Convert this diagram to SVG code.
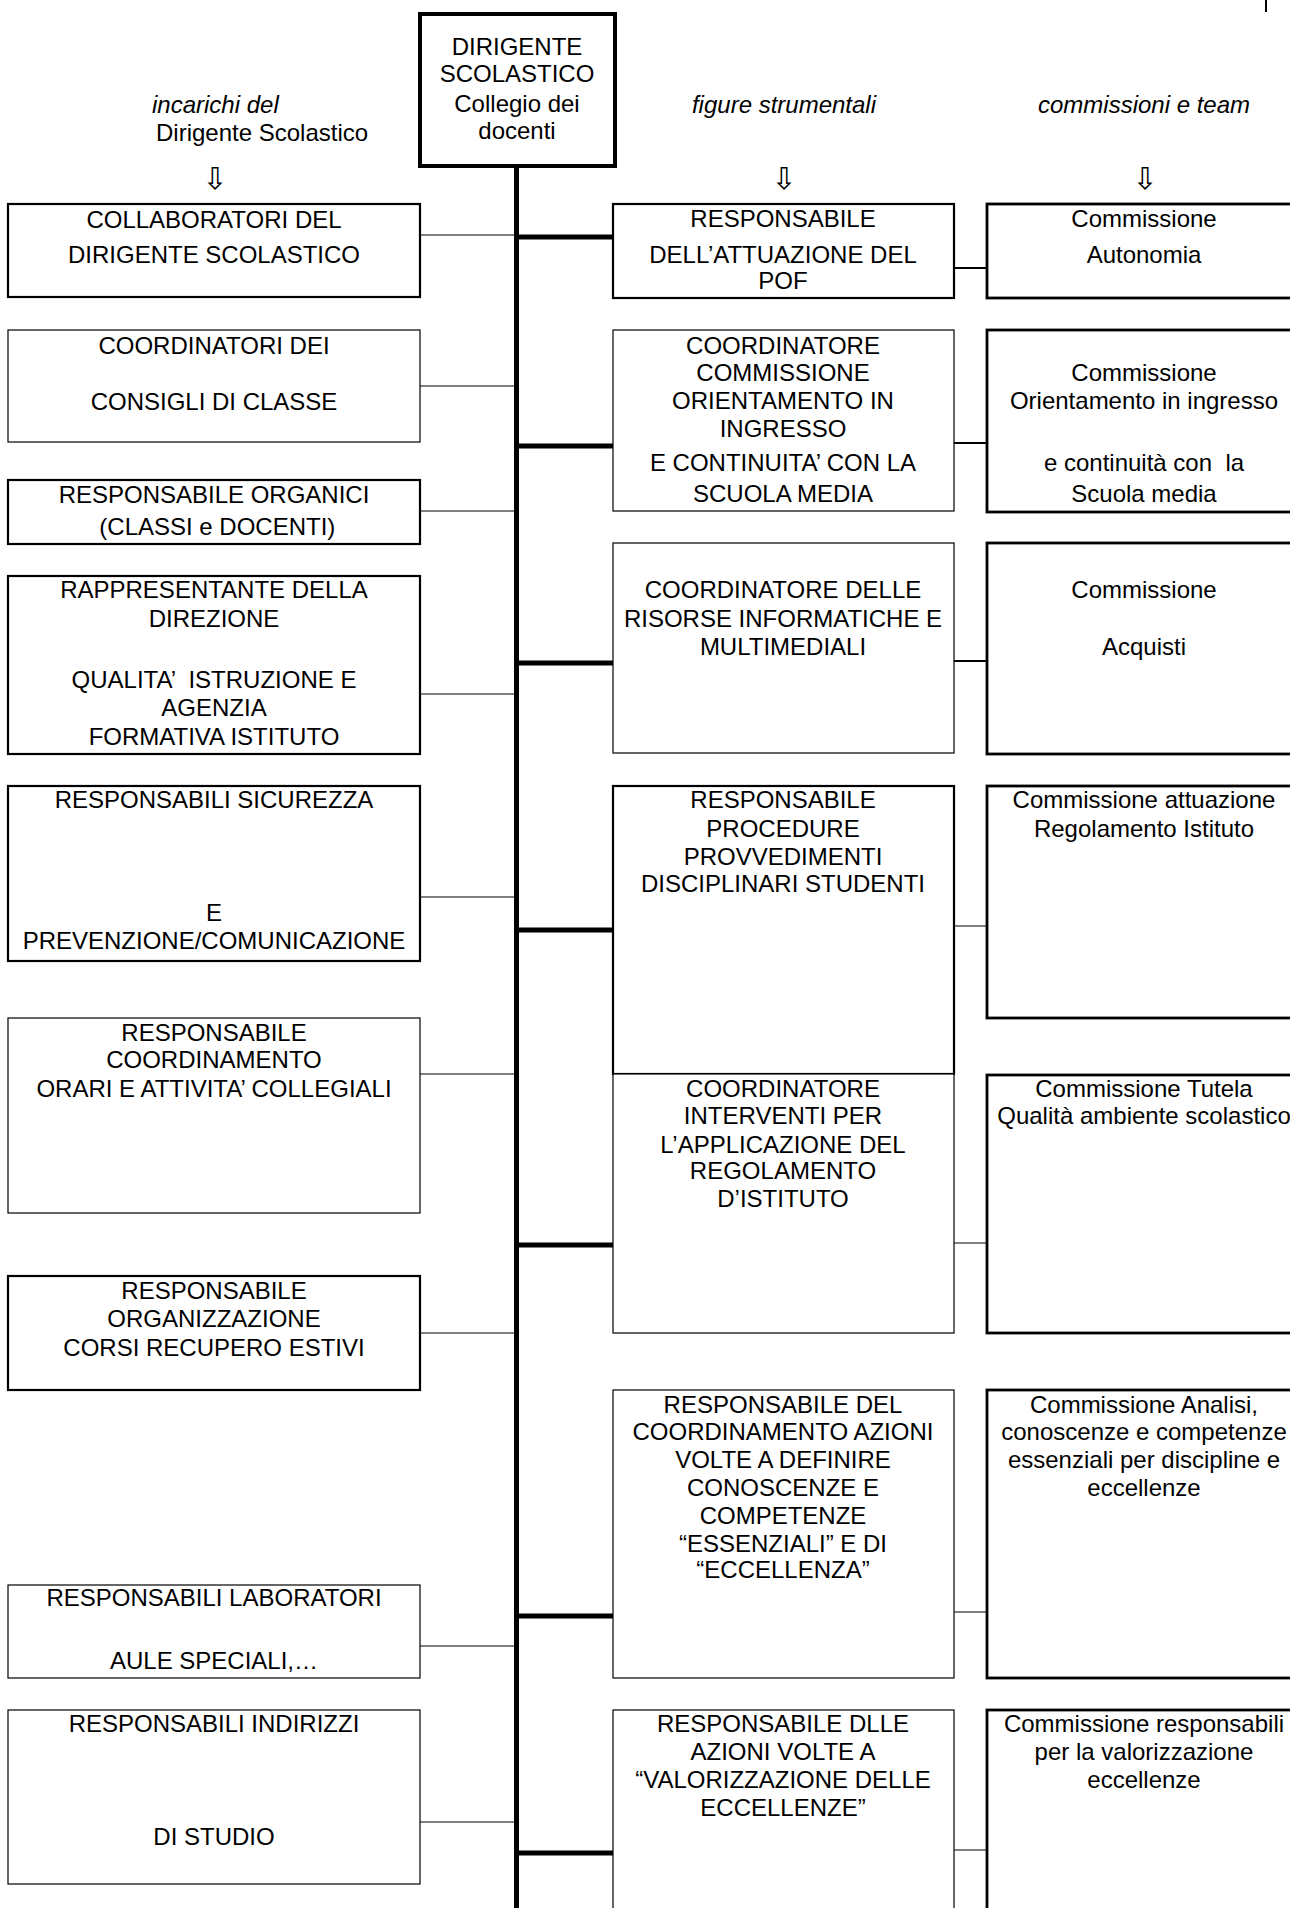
<svg xmlns="http://www.w3.org/2000/svg" width="1290" height="1908" viewBox="0 0 1290 1908">
<style>
.b1{fill:#fff;stroke:#000;stroke-width:1.2}
.b2{fill:#fff;stroke:#000;stroke-width:2.2}
.b3{fill:#fff;stroke:#000;stroke-width:2.8}
.t{font-family:"Liberation Sans",Arial,sans-serif;font-size:24px;text-anchor:middle;fill:#000;white-space:pre}
.h{font-family:"Liberation Sans",Arial,sans-serif;font-size:24px;fill:#000}
.i{font-style:italic}
.ar{font-family:"DejaVu Sans",sans-serif;font-size:30px;text-anchor:middle;fill:#000}
.c1{stroke:#000;stroke-width:1.2;fill:none}
.c2{stroke:#000;stroke-width:2.2;fill:none}
.ck{stroke:#000;stroke-width:5;fill:none}
</style>
<rect width="1290" height="1908" fill="#fff"/>
<line x1="1266" y1="0" x2="1266" y2="12" stroke="#000" stroke-width="2"/>

<g id="headers">
<text class="h i" x="152" y="113">incarichi del</text>
<text class="h" x="156" y="141">Dirigente Scolastico</text>
<text class="h i" x="784" y="113" text-anchor="middle">figure strumentali</text>
<text class="h i" x="1144" y="113" text-anchor="middle">commissioni e team</text>
<text class="ar" x="215" y="189">⇩</text>
<text class="ar" x="784" y="189">⇩</text>
<text class="ar" x="1145" y="189">⇩</text>
</g>

<g id="connectors">
<line class="ck" x1="516.5" y1="166" x2="516.5" y2="1908"/>
<line class="ck" x1="516" y1="237" x2="613" y2="237"/>
<line class="ck" x1="516" y1="446" x2="613" y2="446"/>
<line class="ck" x1="516" y1="663" x2="613" y2="663"/>
<line class="ck" x1="516" y1="930" x2="613" y2="930"/>
<line class="ck" x1="516" y1="1245" x2="613" y2="1245"/>
<line class="ck" x1="516" y1="1616" x2="613" y2="1616"/>
<line class="ck" x1="516" y1="1853" x2="613" y2="1853"/>
<line class="c1" x1="420" y1="235" x2="514" y2="235"/>
<line class="c1" x1="420" y1="386" x2="514" y2="386"/>
<line class="c1" x1="420" y1="511" x2="514" y2="511"/>
<line class="c1" x1="420" y1="694" x2="514" y2="694"/>
<line class="c1" x1="420" y1="897" x2="514" y2="897"/>
<line class="c1" x1="420" y1="1074" x2="514" y2="1074"/>
<line class="c1" x1="420" y1="1333" x2="514" y2="1333"/>
<line class="c1" x1="420" y1="1646" x2="514" y2="1646"/>
<line class="c1" x1="420" y1="1822" x2="514" y2="1822"/>
<line class="c2" x1="954" y1="268" x2="987" y2="268"/>
<line class="c2" x1="954" y1="443" x2="987" y2="443"/>
<line class="c2" x1="954" y1="661" x2="987" y2="661"/>
<line class="c1" x1="954" y1="926" x2="987" y2="926"/>
<line class="c1" x1="954" y1="1243" x2="987" y2="1243"/>
<line class="c1" x1="954" y1="1612" x2="987" y2="1612"/>
<line class="c1" x1="954" y1="1850" x2="987" y2="1850"/>
</g>

<g id="dirigente">
<rect x="420" y="14" width="195" height="152" fill="#fff" stroke="#000" stroke-width="4"/>
<text class="t" x="517" y="55">DIRIGENTE</text>
<text class="t" x="517" y="82">SCOLASTICO</text>
<text class="t" x="517" y="112">Collegio dei</text>
<text class="t" x="517" y="139">docenti</text>
</g>

<g id="collaboratori">
<rect class="b2" x="8" y="204" width="412" height="93"/>
<text class="t" x="214" y="228">COLLABORATORI DEL</text>
<text class="t" x="214" y="263">DIRIGENTE SCOLASTICO</text>
</g>
<g id="coordinatori-consigli">
<rect class="b1" x="8" y="330" width="412" height="112"/>
<text class="t" x="214" y="354">COORDINATORI DEI</text>
<text class="t" x="214" y="410">CONSIGLI DI CLASSE</text>
</g>
<g id="organici">
<rect class="b2" x="8" y="480" width="412" height="64"/>
<text class="t" x="214" y="503">RESPONSABILE ORGANICI</text>
<text class="t" x="214" y="535"> (CLASSI e DOCENTI)</text>
</g>
<g id="rappresentante">
<rect class="b2" x="8" y="576" width="412" height="178"/>
<text class="t" x="214" y="598">RAPPRESENTANTE DELLA</text>
<text class="t" x="214" y="627">DIREZIONE</text>
<text class="t" x="214" y="688">QUALITA’  ISTRUZIONE E</text>
<text class="t" x="214" y="716">AGENZIA</text>
<text class="t" x="214" y="745">FORMATIVA ISTITUTO</text>
</g>
<g id="sicurezza">
<rect class="b2" x="8" y="786" width="412" height="175"/>
<text class="t" x="214" y="808">RESPONSABILI SICUREZZA</text>
<text class="t" x="214" y="921">E</text>
<text class="t" x="214" y="949">PREVENZIONE/COMUNICAZIONE</text>
</g>
<g id="orari">
<rect class="b1" x="8" y="1018" width="412" height="195"/>
<text class="t" x="214" y="1041">RESPONSABILE</text>
<text class="t" x="214" y="1068">COORDINAMENTO</text>
<text class="t" x="214" y="1097">ORARI E ATTIVITA’ COLLEGIALI</text>
</g>
<g id="corsi-recupero">
<rect class="b2" x="8" y="1276" width="412" height="114"/>
<text class="t" x="214" y="1299">RESPONSABILE</text>
<text class="t" x="214" y="1327">ORGANIZZAZIONE</text>
<text class="t" x="214" y="1356">CORSI RECUPERO ESTIVI</text>
</g>
<g id="laboratori">
<rect class="b1" x="8" y="1585" width="412" height="93"/>
<text class="t" x="214" y="1606">RESPONSABILI LABORATORI</text>
<text class="t" x="214" y="1669">AULE SPECIALI,…</text>
</g>
<g id="indirizzi">
<rect class="b1" x="8" y="1710" width="412" height="174"/>
<text class="t" x="214" y="1732">RESPONSABILI INDIRIZZI</text>
<text class="t" x="214" y="1845">DI STUDIO</text>
</g>

<g id="pof">
<rect class="b2" x="613" y="204" width="341" height="94"/>
<text class="t" x="783" y="227">RESPONSABILE</text>
<text class="t" x="783" y="263">DELL’ATTUAZIONE DEL</text>
<text class="t" x="783" y="289">POF</text>
</g>
<g id="orientamento">
<rect class="b1" x="613" y="330" width="341" height="181"/>
<text class="t" x="783" y="354">COORDINATORE</text>
<text class="t" x="783" y="381">COMMISSIONE</text>
<text class="t" x="783" y="409">ORIENTAMENTO IN</text>
<text class="t" x="783" y="437">INGRESSO</text>
<text class="t" x="783" y="471">E CONTINUITA’ CON LA</text>
<text class="t" x="783" y="502">SCUOLA MEDIA</text>
</g>
<g id="risorse">
<rect class="b1" x="613" y="543" width="341" height="210"/>
<text class="t" x="783" y="598">COORDINATORE DELLE</text>
<text class="t" x="783" y="627">RISORSE INFORMATICHE E</text>
<text class="t" x="783" y="655">MULTIMEDIALI</text>
</g>
<g id="procedure">
<rect class="b2" x="613" y="786" width="341" height="288"/>
<text class="t" x="783" y="808">RESPONSABILE</text>
<text class="t" x="783" y="837">PROCEDURE</text>
<text class="t" x="783" y="865">PROVVEDIMENTI</text>
<text class="t" x="783" y="892">DISCIPLINARI STUDENTI</text>
</g>
<g id="interventi">
<rect class="b1" x="613" y="1074" width="341" height="259"/>
<text class="t" x="783" y="1097">COORDINATORE</text>
<text class="t" x="783" y="1124">INTERVENTI PER</text>
<text class="t" x="783" y="1153">L’APPLICAZIONE DEL</text>
<text class="t" x="783" y="1179">REGOLAMENTO</text>
<text class="t" x="783" y="1207">D’ISTITUTO</text>
</g>
<g id="essenziali">
<rect class="b1" x="613" y="1390" width="341" height="288"/>
<text class="t" x="783" y="1413">RESPONSABILE DEL</text>
<text class="t" x="783" y="1440">COORDINAMENTO AZIONI</text>
<text class="t" x="783" y="1468">VOLTE A DEFINIRE</text>
<text class="t" x="783" y="1496">CONOSCENZE E</text>
<text class="t" x="783" y="1524">COMPETENZE</text>
<text class="t" x="783" y="1552">“ESSENZIALI” E DI</text>
<text class="t" x="783" y="1578">“ECCELLENZA”</text>
</g>
<g id="valorizzazione">
<rect class="b1" x="613" y="1710" width="341" height="260"/>
<text class="t" x="783" y="1732">RESPONSABILE DLLE</text>
<text class="t" x="783" y="1760">AZIONI VOLTE A</text>
<text class="t" x="783" y="1788">“VALORIZZAZIONE DELLE</text>
<text class="t" x="783" y="1816">ECCELLENZE”</text>
</g>

<g id="comm-autonomia">
<rect class="b3" x="987" y="204" width="314" height="94"/>
<text class="t" x="1144" y="227">Commissione</text>
<text class="t" x="1144" y="263">Autonomia</text>
</g>
<g id="comm-orientamento">
<rect class="b3" x="987" y="330" width="314" height="182"/>
<text class="t" x="1144" y="381">Commissione</text>
<text class="t" x="1144" y="409">Orientamento in ingresso</text>
<text class="t" x="1144" y="471">e continuità con  la</text>
<text class="t" x="1144" y="502">Scuola media</text>
</g>
<g id="comm-acquisti">
<rect class="b3" x="987" y="543" width="314" height="211"/>
<text class="t" x="1144" y="598">Commissione</text>
<text class="t" x="1144" y="655">Acquisti</text>
</g>
<g id="comm-regolamento">
<rect class="b3" x="987" y="786" width="314" height="232"/>
<text class="t" x="1144" y="808">Commissione attuazione</text>
<text class="t" x="1144" y="837">Regolamento Istituto</text>
</g>
<g id="comm-tutela">
<rect class="b3" x="987" y="1075" width="314" height="258"/>
<text class="t" x="1144" y="1097">Commissione Tutela</text>
<text class="t" x="1144" y="1124">Qualità ambiente scolastico</text>
</g>
<g id="comm-analisi">
<rect class="b3" x="987" y="1390" width="314" height="288"/>
<text class="t" x="1144" y="1413">Commissione Analisi,</text>
<text class="t" x="1144" y="1440">conoscenze e competenze</text>
<text class="t" x="1144" y="1468">essenziali per discipline e</text>
<text class="t" x="1144" y="1496">eccellenze</text>
</g>
<g id="comm-eccellenze">
<rect class="b3" x="987" y="1710" width="314" height="260"/>
<text class="t" x="1144" y="1732">Commissione responsabili</text>
<text class="t" x="1144" y="1760">per la valorizzazione</text>
<text class="t" x="1144" y="1788">eccellenze</text>
</g>
</svg>
